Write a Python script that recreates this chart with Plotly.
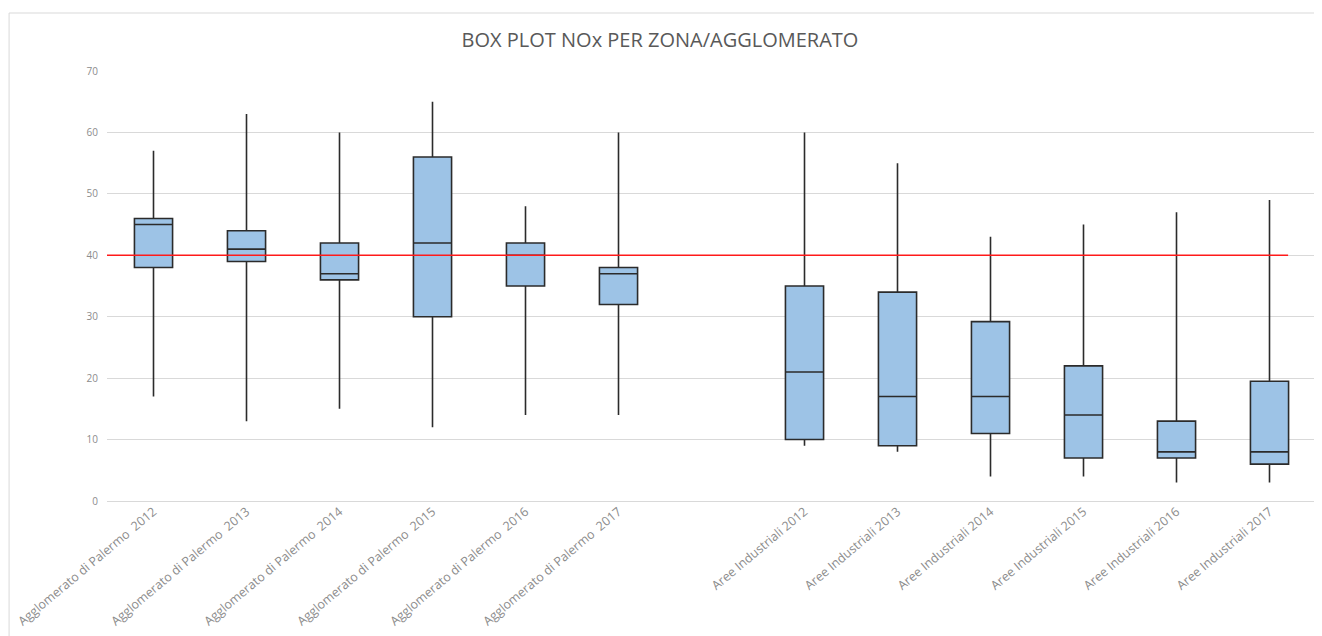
import plotly.graph_objects as go

# ---- data ----
categories = [
    "Agglomerato di Palermo  2012", "Agglomerato di Palermo  2013",
    "Agglomerato di Palermo  2014", "Agglomerato di Palermo  2015",
    "Agglomerato di Palermo  2016", "Agglomerato di Palermo  2017",
    " ",
    "Aree Industriali 2012", "Aree Industriali 2013", "Aree Industriali 2014",
    "Aree Industriali 2015", "Aree Industriali 2016", "Aree Industriali 2017",
]
box_categories = [c for c in categories if c.strip()]
lower_whisker = [17, 13, 15, 12, 14, 14, 9, 8, 4, 4, 3, 3]
q1_values = [38, 39, 36, 30, 35, 32, 10, 9, 11, 7, 7, 6]
median_values = [45, 41, 37, 42, 40, 37, 21, 17, 17, 14, 8, 8]
q3_values = [46, 44, 42, 56, 42, 38, 35, 34, 29.2, 22, 13, 19.5]
upper_whisker = [57, 63, 60, 65, 48, 60, 60, 55, 43, 45, 47, 49]
limit_value = 40
y_ticks = [0, 10, 20, 30, 40, 50, 60, 70]

# page has an 8px body margin; figure coords = screen coords - 8
W, H = 1322, 636
L, R, T, B = 98.5, 13.5, 63, 143
pw, ph = W - L - R, H - T - B

fig = go.Figure()
fig.add_trace(go.Box(
    x=box_categories,
    q1=q1_values, median=median_values, q3=q3_values,
    lowerfence=lower_whisker, upperfence=upper_whisker,
    fillcolor="#9DC3E6",
    line=dict(color="#2b2b2b", width=1.6),
    whiskerwidth=0,
    width=0.41,
    boxpoints=False,
    hoverinfo="y",
    showlegend=False,
))

fig.add_shape(type="line", xref="x", yref="y",
              x0=-0.5, x1=12.2, y0=limit_value, y1=limit_value,
              line=dict(color="#FF1a1a", width=1.6), layer="above")

# outer chart border
fig.add_shape(type="rect", xref="paper", yref="paper",
              x0=(0.5 - L) / pw, x1=(1311 - L) / pw,
              y0=-(B + 20) / ph, y1=(H - B - 5) / ph,
              line=dict(color="#D9D9D9", width=1), layer="below")

fig.update_layout(
    width=W, height=H,
    margin=dict(l=L, r=R, t=T, b=B, autoexpand=False),
    paper_bgcolor="white", plot_bgcolor="white",
    title=dict(text="BOX PLOT NOx PER ZONA/AGGLOMERATO",
               x=652 / W, xref="container", xanchor="center",
               y=1 - 32 / H, yref="container", yanchor="middle",
               font=dict(family="Open Sans", size=20, color="#595959")),
    font=dict(family="Open Sans"),
)
fig.update_xaxes(
    type="category", categoryorder="array", categoryarray=categories,
    range=[-0.5, 12.5], showgrid=False, showline=False, zeroline=False,
    tickangle=-40, tickfont=dict(size=12.5, color="#8c8c8c"),
    ticks="",
)
fig.update_yaxes(
    range=[0, 70], tickvals=y_ticks, showgrid=True, gridcolor="#D9D9D9",
    gridwidth=1, zeroline=True, zerolinecolor="#D9D9D9", zerolinewidth=1,
    showline=False, tickfont=dict(size=10, color="#8c8c8c"),
    ticklabelstandoff=8,
)

fig.write_html("out.html")
